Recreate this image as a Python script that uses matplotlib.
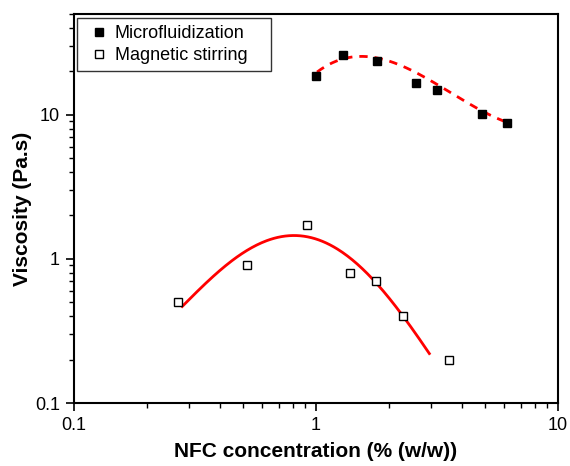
import matplotlib
matplotlib.use('Agg')
import matplotlib.pyplot as plt
import numpy as np
from matplotlib.ticker import LogLocator, FixedLocator, FixedFormatter, NullFormatter

plt.rcParams['font.family'] = ['Liberation Sans', 'DejaVu Sans']

# measured points
micro_x = [1.00, 1.29, 1.79, 2.59, 3.16, 4.85, 6.15]
micro_y = [18.7, 26.1, 23.7, 16.7, 14.9, 10.2, 8.8]
stir_x = [0.269, 0.519, 0.918, 1.38, 1.77, 2.29, 3.54]
stir_y = [0.50, 0.91, 1.72, 0.80, 0.70, 0.40, 0.20]

# points
micro_fit_x = [1.01, 1.47, 1.96, 2.77, 3.47, 4.46, 6.14]
micro_fit_y = [19.6, 26.1, 23.4, 18.1, 14.9, 11.7, 8.8]
stir_fit_x = [0.280, 0.365, 0.501, 0.832, 1.30, 1.78, 2.30, 2.94]
stir_fit_y = [0.47, 0.715, 1.10, 1.50, 1.04, 0.695, 0.398, 0.219]


def smooth(xs, ys, deg=3):
    lx, ly = np.log10(xs), np.log10(ys)
    c = np.polyfit(lx, ly, deg)
    gx = np.linspace(lx[0], lx[-1], 200)
    return 10 ** gx, 10 ** np.polyval(c, gx)


fig = plt.figure(figsize=(5.7, 4.66), dpi=100)
ax = fig.add_axes([74 / 570, 63 / 466, 484 / 570, 389 / 466])

fx, fy = smooth(micro_fit_x, micro_fit_y)
ax.plot(fx, fy, color='red', lw=2, ls=(0, (3, 2.5)), zorder=2)
fx, fy = smooth(stir_fit_x, stir_fit_y, deg=4)
ax.plot(fx, fy, color='red', lw=2, zorder=2)

ax.plot(micro_x, micro_y, 's', color='black', ms=6, label='Microfluidization', zorder=3)
ax.plot(stir_x, stir_y, 's', mfc='white', mec='black', mew=1, ms=6,
        label='Magnetic stirring', zorder=3)

ax.set_xscale('log')
ax.set_yscale('log')
ax.set_xlim(0.1, 10)
ax.set_ylim(0.1, 50)

ax.xaxis.set_major_locator(FixedLocator([0.1, 1, 10]))
ax.xaxis.set_major_formatter(FixedFormatter(['0.1', '1', '10']))
ax.yaxis.set_major_locator(FixedLocator([0.1, 1, 10]))
ax.yaxis.set_major_formatter(FixedFormatter(['0.1', '1', '10']))
ax.xaxis.set_minor_locator(LogLocator(subs=np.arange(2, 10)))
ax.yaxis.set_minor_locator(LogLocator(subs=np.arange(2, 10)))
ax.xaxis.set_minor_formatter(NullFormatter())
ax.yaxis.set_minor_formatter(NullFormatter())

ax.tick_params(which='major', direction='out', length=6, width=1.2, labelsize=13, pad=4)
ax.tick_params(which='minor', direction='out', length=3.5, width=1)
for s in ax.spines.values():
    s.set_linewidth(1.5)

ax.set_xlabel('NFC concentration (% (w/w))', fontsize=15, fontweight='bold', labelpad=6)
ax.set_ylabel('Viscosity (Pa.s)', fontsize=15, fontweight='bold', labelpad=2)

leg = ax.legend(loc='upper left', bbox_to_anchor=(3 / 484, 385 / 389, 194 / 484, 0),
                mode='expand', fontsize=13, frameon=True, fancybox=False,
                edgecolor='black', handlelength=1.7, handletextpad=0.0,
                borderpad=0.38, labelspacing=0.3, borderaxespad=0)
leg.get_frame().set_linewidth(1)

fig.savefig('out.png', dpi=100)
